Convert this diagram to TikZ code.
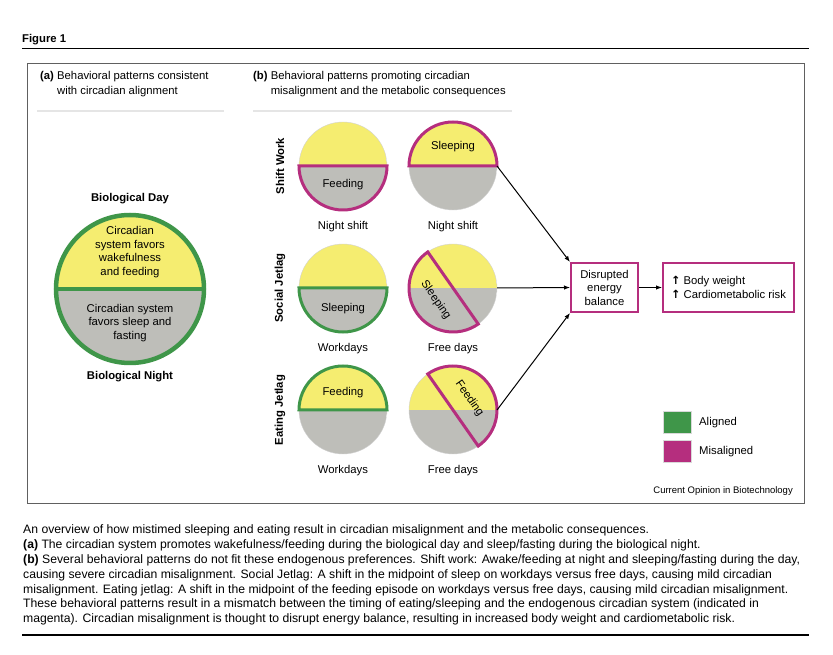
\documentclass[tikz,border=0pt]{standalone}
\usepackage{fontspec}
\setmainfont{Liberation Sans}
\newfontfamily\arrowfont{DejaVu Sans}
\usetikzlibrary{arrows.meta}

\definecolor{dayyellow}{RGB}{245,237,112}
\definecolor{nightgray}{RGB}{190,190,185}
\definecolor{aligngreen}{RGB}{63,150,73}
\definecolor{misalmagenta}{RGB}{181,46,126}

\tikzset{
    lbl/.style={font=\fontsize{11.3}{13.5}\selectfont, inner sep=0pt, align=center},
    lblb/.style={lbl, font=\fontsize{11.3}{13.5}\selectfont\bfseries},
    halfdisc/.style={circle, inner sep=0pt, outer sep=0pt, minimum size=#1,
        path picture={
            \fill[dayyellow] (path picture bounding box.west) rectangle (path picture bounding box.north east);
            \fill[nightgray] (path picture bounding box.west) rectangle (path picture bounding box.south east);
        }},
    disc/.style={halfdisc=88pt, draw=gray!35, line width=0.4pt},
    aligned/.style={draw=aligngreen, line width=3pt},
    misal/.style={draw=misalmagenta, line width=3pt},
    effbox/.style={lbl, draw=misalmagenta, line width=2pt, fill=white, minimum height=49pt},
    legsq/.style={draw=gray!30, line width=0.4pt, minimum width=28pt, minimum height=22pt, inner sep=0pt},
    flow/.style={-{Latex[length=6pt,width=4.5pt]}, line width=1pt},
}

\begin{document}
\begin{tikzpicture}[x=1pt, y=1pt]
    \useasboundingbox (0,0) rectangle (833,654);

    \node[lblb, anchor=base west] (fig) at (22,611) {Figure 1};
    \draw[line width=1.2pt] (22,605.7) -- (809,605.7);
    \draw[gray!75!black, line width=0.8pt] (27,151) rectangle (804,591);

    % panel headers
    \node[lbl, align=left, anchor=base west, font=\fontsize{11.3}{15}\selectfont] (hdra) at (40,559)
        {\textbf{(a)} Behavioral patterns consistent\\\hphantom{\textbf{(a)} }with circadian alignment};
    \node[lbl, align=left, anchor=base west, font=\fontsize{11.3}{15}\selectfont] (hdrb) at (253,559)
        {\textbf{(b)} Behavioral patterns promoting circadian\\\hphantom{\textbf{(b)} }misalignment and the metabolic consequences};
    \draw[gray!20, line width=1.2pt] (37,543) -- (224,543);
    \draw[gray!20, line width=1.2pt] (253,543) -- (512,543);

    % (a) biological day and night
    \node[halfdisc=148pt, draw=aligngreen, line width=4.5pt] (bigc) at (130,365) {};
    \draw[aligngreen, line width=4.5pt] (bigc.west) -- (bigc.east);
    \node[lblb] (bioday) at (130,455) {Biological Day};
    \node[lblb] (bionight) at (130,277) {Biological Night};
    \node[lbl] (daytxt) at (130,402) {Circadian\\system favors\\wakefulness\\and feeding};
    \node[lbl] (nighttxt) at (130,331) {Circadian system\\favors sleep and\\fasting};

    % (b) rows
    \node[lblb, rotate=90] (rsw) at (280,488) {Shift Work};
    \node[lblb, rotate=90] (rsj) at (280,366) {Social Jetlag};
    \node[lblb, rotate=90] (rej) at (280,244) {Eating Jetlag};

    \node[disc] (sw1) at (343,488) {};
    \node[disc] (sw2) at (453,488) {};
    \node[disc] (sj1) at (343,366) {};
    \node[disc] (sj2) at (453,366) {};
    \node[disc] (ej1) at (343,244) {};
    \node[disc] (ej2) at (453,244) {};

    \draw[misal] (sw1.west) arc[start angle=180, end angle=360, radius=44] -- cycle;
    \draw[misal] (sw2.west) arc[start angle=180, end angle=0, radius=44] -- cycle;
    \draw[aligned] (sj1.west) arc[start angle=180, end angle=360, radius=44] -- cycle;
    \draw[misal] (sj2.125) arc[start angle=125, end angle=305, radius=44] -- cycle;
    \draw[aligned] (ej1.west) arc[start angle=180, end angle=0, radius=44] -- cycle;
    \draw[misal] (ej2.-55) arc[start angle=-55, end angle=125, radius=44] -- cycle;

    \node[lbl] (sw1txt) at (343,469) {Feeding};
    \node[lbl] (sw2txt) at (453,507) {Sleeping};
    \node[lbl] (sj1txt) at (343,345) {Sleeping};
    \node[lbl, rotate=-55] (sj2txt) at ([shift={(215:21)}]sj2.center) {Sleeping};
    \node[lbl] (ej1txt) at (343,261) {Feeding};
    \node[lbl, rotate=-55] (ej2txt) at ([shift={(35:20)}]ej2.center) {Feeding};

    \node[lbl] (sw1lbl) at (343,427) {Night shift};
    \node[lbl] (sw2lbl) at (453,427) {Night shift};
    \node[lbl] (sj1lbl) at (343,305) {Workdays};
    \node[lbl] (sj2lbl) at (453,305) {Free days};
    \node[lbl] (ej1lbl) at (343,183) {Workdays};
    \node[lbl] (ej2lbl) at (453,183) {Free days};

    % consequences
    \node[effbox, minimum width=67pt] (deb) at (604.5,366.5) {Disrupted\\energy\\balance};
    \node[effbox, minimum width=131pt, align=left] (risk) at (728.5,366.5)
        {{\arrowfont\bfseries ↑} Body weight\\{\arrowfont\bfseries ↑} Cardiometabolic risk};

    \draw[flow] (sw2.east) -- (deb.north west);
    \draw[flow] (sj2.east) -- (deb.west);
    \draw[flow] (ej2.east) -- (deb.south west);
    \draw[flow] (deb.east) -- (risk.west);

    % legend
    \node[legsq, fill=aligngreen] (legal) at (677,232) {};
    \node[legsq, fill=misalmagenta] (legmis) at (677,203) {};
    \node[lbl, anchor=west] (legaltxt) at (699,231) {Aligned};
    \node[lbl, anchor=west] (legmistxt) at (699,202) {Misaligned};
    \node[lbl, anchor=east, font=\fontsize{9.5}{11}\selectfont] (credit) at (793,163) {Current Opinion in Biotechnology};

    % caption
    \node[lbl, align=left, anchor=base west, font=\fontsize{12.2}{14.9}\selectfont] (capt) at (23,31.2)
        {An overview of how mistimed sleeping and eating result in circadian misalignment and the metabolic consequences.\\
        \textbf{(a)} The circadian system promotes wakefulness/feeding during the biological day and sleep/fasting during the biological night.\\
        \textbf{(b)} Several behavioral patterns do not fit these endogenous preferences. Shift work: Awake/feeding at night and sleeping/fasting during the day,\\
        causing severe circadian misalignment. Social Jetlag: A shift in the midpoint of sleep on workdays versus free days, causing mild circadian\\
        misalignment. Eating jetlag: A shift in the midpoint of the feeding episode on workdays versus free days, causing mild circadian misalignment.\\
        These behavioral patterns result in a mismatch between the timing of eating/sleeping and the endogenous circadian system (indicated in\\
        magenta). Circadian misalignment is thought to disrupt energy balance, resulting in increased body weight and cardiometabolic risk.};
    \draw[line width=2pt] (22,19) -- (809,19);
\end{tikzpicture}
\end{document}
